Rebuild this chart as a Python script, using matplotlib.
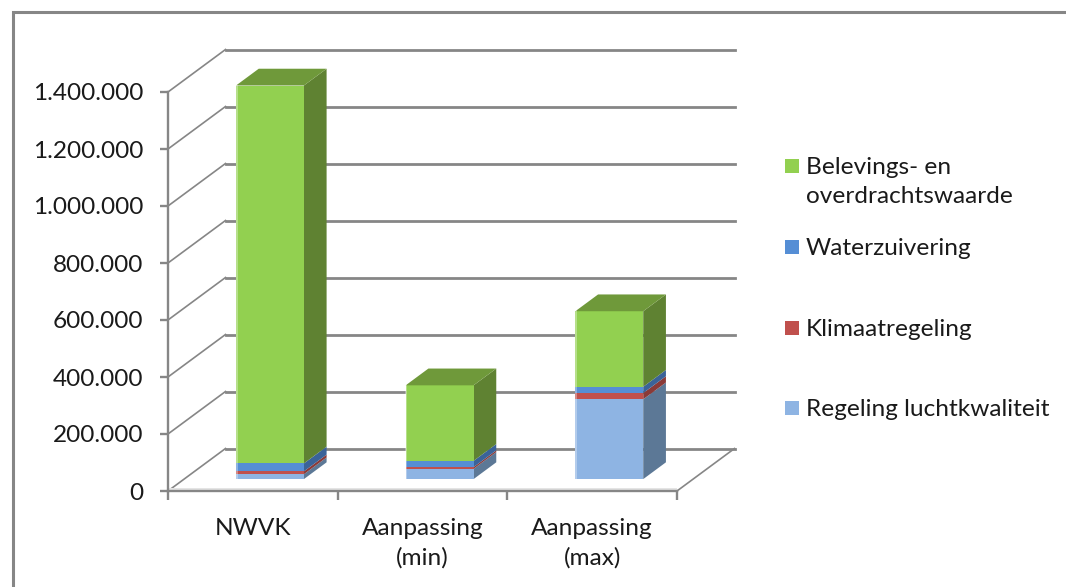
import matplotlib
matplotlib.use('Agg')
import matplotlib.pyplot as plt
from matplotlib.lines import Line2D
from matplotlib.patches import Rectangle
from matplotlib.ticker import FuncFormatter

categories = ['NWVK', 'Aanpassing\n(min)', 'Aanpassing\n(max)']
luchtkwaliteit = [17000, 36000, 280000]
klimaat = [10000, 6000, 22000]
water = [28000, 22000, 22000]
beleving = [1326000, 265000, 265000]

series = [luchtkwaliteit, klimaat, water, beleving]
labels = ['Regeling luchtkwaliteit', 'Klimaatregeling', 'Waterzuivering',
          'Belevings- en\noverdrachtswaarde']
front = ['#8EB4E3', '#C0504D', '#558ED5', '#92D050']
side = ['#5C7896', '#8A3A38', '#3A6399', '#5F8232']
top_col = '#6F993A'
grey = '#868686'
yticks = [0, 200000, 400000, 600000, 800000, 1000000, 1200000, 1400000]

W, H = 1066, 587
fig = plt.figure(figsize=(W / 100, H / 100), dpi=100)
plt.rcParams['font.family'] = ['Lato', 'DejaVu Sans']
FS = 17.6

# front plane of the box, rest is sheared off it
ax = fig.add_axes([168 / W, 1 - 491 / H, 509 / W, 399 / H])
ax.set_xlim(0, 3)
ax.set_ylim(0, 1400000)
ax.patch.set_visible(False)

# depth of the box in axis units
DX = 57.5 / (509 / 3)
DY = 42.5 / (399 / 1400000)


def proj(x, y, d):
    return x + d * DX, y + d * DY


# walls and gridlines
for v in yticks:
    x0, y0 = proj(0, v, 1)
    ax.plot([0, x0], [v, y0], color=grey, lw=1.2, clip_on=False, zorder=1)
    ax.plot([x0, proj(3, v, 1)[0]], [y0, y0], color=grey, lw=2.0, clip_on=False, zorder=1)
# floor edges
xr, yr = proj(3, 0, 1)
ax.plot([3, xr], [0, yr], color=grey, lw=1.2, clip_on=False, zorder=1)
ax.fill_between([0, 3], 0, 11000, color='#E4E4E4', lw=0, zorder=1, clip_on=False)

# stacked boxes, sitting between depth 0.28 and 0.675
d0, d1 = 0.28, 0.675
bar_w = 0.4
for i in range(len(categories)):
    xl = i + 0.506 - bar_w / 2
    xh = xl + bar_w
    base = 0
    for s, values in enumerate(series):
        v = values[i]
        a = proj(xl, base, d0)
        b = proj(xh, base, d0)
        c = proj(xh, base + v, d0)
        d = proj(xl, base + v, d0)
        e = proj(xh, base, d1)
        f = proj(xh, base + v, d1)
        ax.fill(*zip(b, e, f, c), color=side[s], lw=0, zorder=3, clip_on=False)
        ax.fill(*zip(a, b, c, d), color=front[s], lw=0, zorder=3, clip_on=False)
        base += v
    g = proj(xh, base, d1)
    h = proj(xl, base, d1)
    ax.fill(*zip(d, c, g, h), color=top_col, lw=0, zorder=3, clip_on=False)
    # pale highlight down the left edge
    ax.plot([a[0] + 0.004] * 2, [proj(xl, 0, d0)[1], d[1]], color='white', alpha=0.4, lw=1.2,
            zorder=4, clip_on=False)

for name in ['top', 'right']:
    ax.spines[name].set_visible(False)
for name in ['left', 'bottom']:
    ax.spines[name].set_color(grey)
    ax.spines[name].set_linewidth(1.7)
    ax.spines[name].set_zorder(2)

ax.set_yticks(yticks)
ax.yaxis.set_major_formatter(FuncFormatter(lambda v, p: f'{int(v):,}'.replace(',', '.')))
ax.set_xticks([0, 1, 2, 3])
ax.set_xticklabels([])
ax.set_xticks([0.5, 1.5, 2.5], minor=True)
ax.set_xticklabels(categories, minor=True, linespacing=1.45)
ax.tick_params(axis='y', length=6, width=1.7, color=grey, labelsize=FS, labelcolor='#1a1a1a', pad=12)
ax.tick_params(axis='x', which='major', length=6.5, width=1.7, color=grey)
ax.tick_params(axis='x', which='minor', length=0, labelsize=FS, labelcolor='#1a1a1a', pad=19.5)

# legend, uneven spacing so laid out by hand
legend_y = [408, 328, 247, 166]
for lab, col, y in zip(labels, front, legend_y):
    fig.add_artist(Rectangle((785 / W, 1 - (y + 7) / H), 14 / W, 14 / H, color=col,
                             lw=0, transform=fig.transFigure))
    fig.text(806 / W, 1 - (y - 9) / H, lab, fontsize=FS, color='#1a1a1a', va='top',
             linespacing=1.45)

# outer frame runs off the right and bottom
fig.add_artist(Line2D([12.5 / W, 12.5 / W, 1], [0, 1 - 11.5 / H, 1 - 11.5 / H], color=grey,
                      lw=2.2, solid_joinstyle='miter'))

fig.savefig('out.png', dpi=100)
